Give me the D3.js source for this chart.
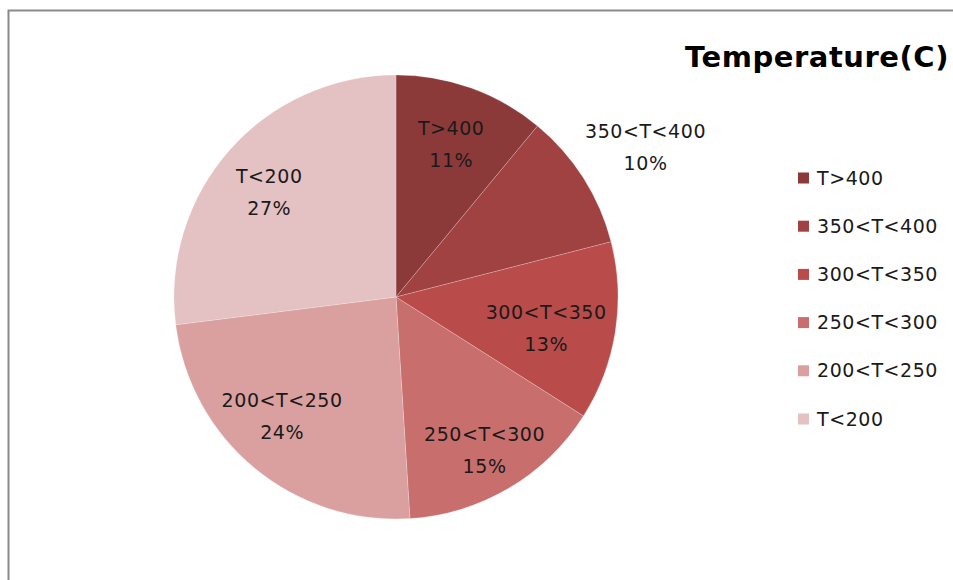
<!DOCTYPE html>
<html><head><meta charset="utf-8">
<script src="https://cdn.jsdelivr.net/npm/d3@7"></script>
<style>html,body{margin:0;padding:0;background:#fff;}svg{display:block;}</style>
</head><body>
<svg id="chart" width="953" height="580"></svg>
<script>
const categories = ["T>400", "350<T<400", "300<T<350", "250<T<300", "200<T<250", "T<200"];
const values = [11, 10, 13, 15, 24, 27];
const colors = ["#8c3a39", "#a04241", "#b94c4a", "#c86f6d", "#d9a09f", "#e4c1c2"];
const title = "Temperature(C)";

const svg = d3.select("#chart");
const font = "'DejaVu Sans', 'Open Sans', sans-serif";
const fs = 19;

// frame
svg.append("path").attr("d", "M8.5,580 V10.5 H953").attr("fill", "none").attr("stroke", "#8a8a8a").attr("stroke-width", 2);

// letter-spacing fit helper
function spacingFor(str, size, weight, target) {
  const t = svg.append("text").attr("font-family", font).attr("font-size", size).attr("font-weight", weight).text(str);
  const w = t.node().getComputedTextLength();
  t.remove();
  return (target - w) / str.length;
}
const ls = spacingFor("350<T<400", fs, "normal", 121);
const lsTitle = spacingFor(title, 29, "bold", 264);

const cx = 396, cy = 297, R = 222;
const data = categories.map((c, i) => ({ name: c, value: values[i], color: colors[i] }));
const total = d3.sum(values);
const pie = d3.pie().value(d => d.value).sort(null);
const arcs = pie(data);
const arc = d3.arc().innerRadius(0).outerRadius(R);
const g = svg.append("g").attr("transform", `translate(${cx},${cy})`);
g.selectAll("path").data(arcs).join("path")
  .attr("d", arc).attr("fill", d => d.data.color)
  .attr("stroke", "#fff").attr("stroke-width", 0.6).attr("stroke-opacity", 0.35);

const labelR = [163, 292, 152, 174, 163, 165];
const nudge = [[0, 0], [3, 6], [0, 7], [0, 3], [-10, -7], [-3, 4]];
const lbl = g.selectAll("g.lbl").data(arcs).join("g").attr("class", "lbl")
  .attr("transform", (d, i) => {
    const la = d3.arc().innerRadius(labelR[i]).outerRadius(labelR[i]);
    const [x, y] = la.centroid(d);
    return `translate(${x + nudge[i][0]},${y + nudge[i][1]})`;
  });
lbl.append("text").attr("text-anchor", "middle").attr("y", -9)
  .attr("font-family", font).attr("font-size", fs).attr("letter-spacing", ls).attr("fill", "#1a1a1a")
  .text(d => d.data.name);
lbl.append("text").attr("text-anchor", "middle").attr("y", 23)
  .attr("font-family", font).attr("font-size", fs).attr("letter-spacing", ls).attr("fill", "#1a1a1a")
  .text(d => Math.round(d.data.value / total * 100) + "%");

// title
svg.append("text").attr("x", 685).attr("y", 67)
  .attr("font-family", font).attr("font-weight", "bold").attr("font-size", 29).attr("letter-spacing", lsTitle).attr("fill", "#000")
  .text(title);

// legend
const ly = d3.scalePoint().domain(categories).range([178, 419]);
const leg = svg.append("g").selectAll("g").data(data).join("g")
  .attr("transform", d => `translate(798,${ly(d.name)})`);
leg.append("rect").attr("x", 0).attr("y", -5.5).attr("width", 11).attr("height", 11).attr("fill", d => d.color);
leg.append("text").attr("x", 19).attr("y", 6.5)
  .attr("font-family", font).attr("font-size", fs).attr("letter-spacing", ls).attr("fill", "#1a1a1a")
  .text(d => d.name);
</script>
</body></html>
